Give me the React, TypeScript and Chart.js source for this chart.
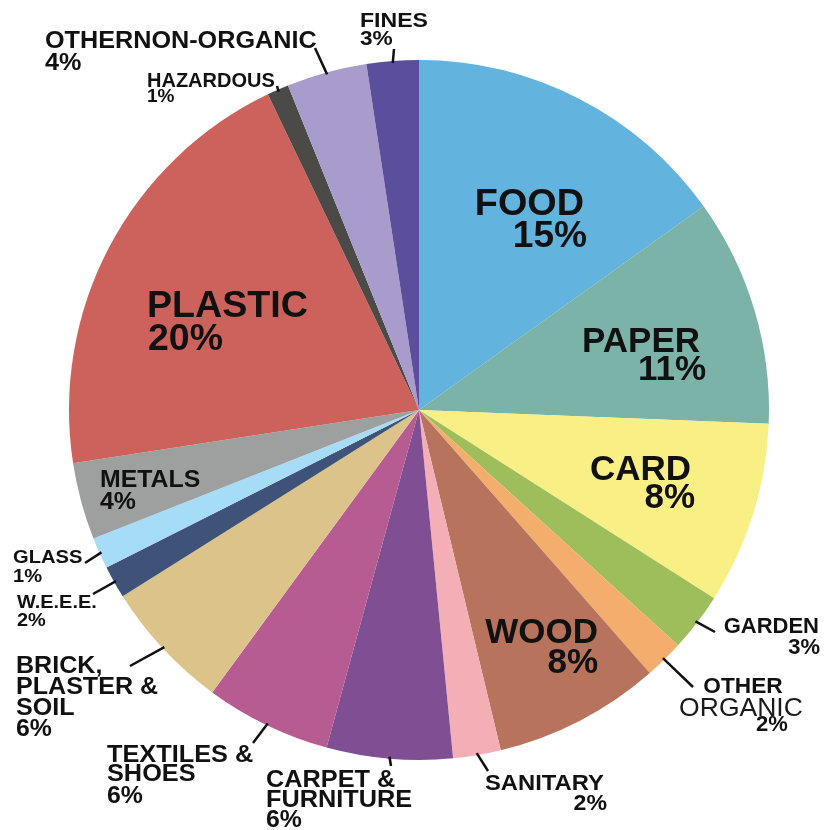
import React, { useEffect, useRef } from "react";
import { Chart, registerables } from "chart.js";

Chart.register(...registerables);

// ---- data (clockwise from 12 o'clock) ----
const categories = [
  "FOOD", "PAPER", "CARD", "GARDEN", "OTHER ORGANIC", "WOOD", "SANITARY",
  "CARPET & FURNITURE", "TEXTILES & SHOES", "BRICK, PLASTER & SOIL", "W.E.E.E.",
  "GLASS", "METALS", "PLASTIC", "HAZARDOUS", "OTHERNON-ORGANIC", "FINES",
];
const values = [15.1, 10.5, 8.4, 2.7, 1.8, 7.7, 2.2, 5.8, 5.8, 6.0, 1.5, 1.45, 3.55, 20.3, 1.0, 3.7, 2.4];
const percentLabels = ["15%", "11%", "8%", "3%", "2%", "8%", "2%", "6%", "6%", "6%", "2%", "1%", "4%", "20%", "1%", "4%", "3%"];
const labelLines = [
  ["FOOD"], ["PAPER"], ["CARD"], ["GARDEN"], ["OTHER", "ORGANIC"], ["WOOD"], ["SANITARY"],
  ["CARPET &", "FURNITURE"], ["TEXTILES &", "SHOES"], ["BRICK,", "PLASTER &", "SOIL"], ["W.E.E.E."],
  ["GLASS"], ["METALS"], ["PLASTIC"], ["HAZARDOUS"], ["OTHERNON-ORGANIC"], ["FINES"],
];
const colors = [
  "#62b3de", "#7bb3a9", "#f8ef85", "#9ebd5b", "#f3ae6e", "#b8735c", "#f4aeb5",
  "#7f4e93", "#b75b93", "#dcc38a", "#3f5378", "#a6dcf5", "#9e9f9f", "#cd625c",
  "#4b4a47", "#a99ccd", "#5b4e9c",
];

// ---- label layout (text positions; one entry per text line incl. percent line) ----
type LineStyle = { x: number; y: number; align: CanvasTextAlign; size: number; sx: number; weight?: string; color?: string };
type LabelLayout = { lines: LineStyle[]; leaderEnd?: [number, number] };

const R = (x: number, y: number, size: number, sx = 1): LineStyle => ({ x, y, align: "right", size, sx });
const L = (x: number, y: number, size: number, sx = 1): LineStyle => ({ x, y, align: "left", size, sx });
const C = (x: number, y: number, size: number, sx = 1, weight = "bold", color = "#111"): LineStyle => ({ x, y, align: "center", size, sx, weight, color });

const labelLayout: LabelLayout[] = [
  { lines: [R(584, 215, 36, 1.05), R(587, 247, 36, 1.03)] },
  { lines: [R(700, 352, 35), R(706, 380, 35)] },
  { lines: [R(691, 480, 35), R(695, 508, 35)] },
  { lines: [R(819, 633, 22), R(820, 654, 22)], leaderEnd: [715, 632] },
  { lines: [C(743, 693, 22, 1.03), C(741, 716, 26, 1.02, "500", "#1a1a1a"), C(772, 731, 22)], leaderEnd: [693, 687] },
  { lines: [R(598, 643, 35), R(598, 673, 35)] },
  { lines: [L(485, 790, 22, 1.08), R(607, 810, 22, 1.05)], leaderEnd: [488, 771] },
  { lines: [L(266, 787, 23, 1.1), L(266, 807, 23, 1.1), L(266, 827, 23, 1.08)], leaderEnd: [391, 766] },
  { lines: [L(107, 762, 23, 1.1), L(107, 781, 23, 1.1), L(107, 803, 23, 1.08)], leaderEnd: [253, 743] },
  { lines: [L(16, 673, 23, 1.09), L(16, 694, 23, 1.09), L(16, 715, 23, 1.09), L(16, 736, 23, 1.08)], leaderEnd: [130, 666] },
  { lines: [L(17, 608, 19, 1.05), L(17, 626, 19, 1.05)], leaderEnd: [93, 594] },
  { lines: [L(13, 563, 19, 1.06), L(13, 582, 19, 1.06)], leaderEnd: [85, 563] },
  { lines: [L(100, 487, 23, 1.08), L(100, 509, 23, 1.08)] },
  { lines: [L(147, 317, 36, 1.045), L(148, 350, 36, 1.04)] },
  { lines: [L(147, 87, 20), L(147, 102, 19)], leaderEnd: [277, 86] },
  { lines: [L(45, 48, 24, 1.05), L(45, 70, 24, 1.05)], leaderEnd: [315, 48] },
  { lines: [L(360, 27, 21, 1.1), L(360, 45, 21, 1.08)], leaderEnd: [394, 49] },
];

const labelPlugin = {
  id: "sliceLabels",
  afterDatasetsDraw(chart: any) {
    const ctx: CanvasRenderingContext2D = chart.ctx;
    const meta = chart.getDatasetMeta(0);
    ctx.save();
    meta.data.forEach((arc: any, i: number) => {
      const layout = labelLayout[i];
      if (!layout) return;
      const { x, y, startAngle, endAngle, outerRadius } = arc.getProps(["x", "y", "startAngle", "endAngle", "outerRadius"], true);
      if (layout.leaderEnd) {
        const mid = (startAngle + endAngle) / 2;
        const sx = x + Math.cos(mid) * (outerRadius - 2);
        const sy = y + Math.sin(mid) * (outerRadius - 2);
        ctx.beginPath();
        ctx.moveTo(sx, sy);
        ctx.lineTo(layout.leaderEnd[0], layout.leaderEnd[1]);
        ctx.strokeStyle = "#111";
        ctx.lineWidth = 2.5;
        ctx.stroke();
      }
      const texts = [...labelLines[i], percentLabels[i]];
      texts.forEach((t, j) => {
        const s = layout.lines[j];
        if (!s) return;
        ctx.save();
        ctx.translate(s.x, s.y);
        ctx.scale(s.sx, 1);
        ctx.font = `${s.weight || "bold"} ${s.size}px "Liberation Sans", Arial, sans-serif`;
        ctx.fillStyle = s.color || "#111";
        ctx.textAlign = s.align;
        ctx.textBaseline = "alphabetic";
        ctx.fillText(t, 0, 0);
        ctx.restore();
      });
    });
    ctx.restore();
  },
};

export default function App() {
  const ref = useRef<HTMLCanvasElement>(null);
  useEffect(() => {
    if (!ref.current) return;
    const chart = new Chart(ref.current, {
      type: "pie",
      data: {
        labels: categories,
        datasets: [{ data: values, backgroundColor: colors, borderWidth: 0 }],
      },
      options: {
        responsive: false,
        animation: false,
        layout: { padding: { left: 68, right: 54, top: 60, bottom: 70 } },
        plugins: { legend: { display: false }, tooltip: { enabled: false } },
      },
      plugins: [labelPlugin],
    });
    return () => chart.destroy();
  }, []);
  return (
    <div style={{ position: "absolute", left: 0, top: 0, width: 824, height: 830, background: "#fff" }}>
      <canvas ref={ref} width={824} height={830} />
    </div>
  );
}
